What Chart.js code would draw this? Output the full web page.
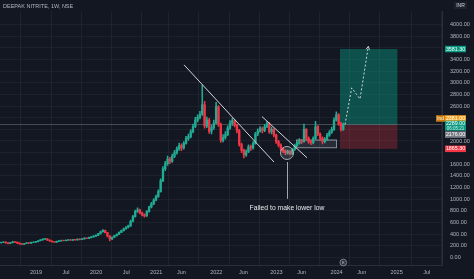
<!DOCTYPE html>
<html><head><meta charset="utf-8">
<script src="https://cdn.jsdelivr.net/npm/chart.js@4.4.0/dist/chart.umd.min.js"></script>
<style>html,body{margin:0;padding:0;background:#131722;overflow:hidden}canvas{display:block}</style>
</head><body>
<canvas id="c" width="474" height="279" style="width:474px;height:279px"></canvas>
<script>
const TITLE = 'DEEPAK NITRITE, 1W, NSE';
const START_YEAR = 2018.42;      // first weekly-pair candle (fractional year)
const STEP = 1 / 26;             // candle spacing in years
const FIRST_OPEN = 250;
const closes = [255,262,248,240,252,268,260,245,232,225,
238,250,244,256,262,270,285,300,312,318,
296,280,268,262,275,282,290,286,294,300,
296,305,300,312,306,318,330,326,340,352,
365,378,405,440,462,425,365,318,345,372,
395,430,458,490,512,540,620,700,790,815,
765,730,712,790,865,920,985,1045,1130,1320,
1520,1610,1690,1655,1740,1800,1865,1920,1880,1960,
2040,2075,2160,2250,2360,2410,2460,2620,2260,2360,
2170,2230,2310,2590,2290,2010,2060,2110,2220,2310,
2350,2270,2180,1940,1840,1760,1820,1900,1880,1960,
2120,2170,2210,2180,2250,2300,2160,2200,2100,1990,
1930,1860,1830,1795,1820,1780,1850,1920,1960,2010,
1990,2200,2050,1990,1970,2040,2250,2120,2050,1990,
2030,2100,2150,2200,2360,2450,2300,2200,2289];
const highs = [262,270,266,252,258,274,272,263,248,236,
242,255,254,260,267,276,290,306,320,328,
322,300,284,272,280,288,296,295,300,306,
305,310,309,318,316,324,336,336,346,358,
372,386,414,452,478,468,430,372,352,380,
404,440,470,502,528,556,640,720,812,850,
830,780,748,805,880,945,1010,1070,1160,1350,
1560,1650,1740,1720,1775,1840,1900,1965,1950,1990,
2080,2120,2195,2290,2405,2450,2510,2960,2680,2410,
2390,2280,2360,2667,2610,2310,2110,2160,2260,2350,
2390,2370,2290,2200,1965,1860,1850,1935,1930,1990,
2150,2210,2250,2240,2285,2337,2315,2240,2215,2120,
2010,1950,1885,1850,1845,1835,1870,1945,1990,2040,
2030,2290,2215,2070,2010,2070,2337,2265,2140,2070,
2060,2130,2180,2240,2400,2500,2470,2320,2310];
const lows = [244,250,242,232,236,248,254,240,226,218,
221,234,239,241,252,258,266,281,296,306,
290,274,262,255,258,270,278,280,282,290,
290,292,295,297,300,303,314,320,322,335,
348,360,372,400,432,418,350,280,305,338,
365,388,424,450,482,505,532,610,690,770,
748,712,690,705,778,850,905,970,1030,1120,
1300,1490,1580,1610,1630,1715,1775,1840,1835,1860,
1945,2010,2055,2140,2230,2330,2380,2440,2220,2230,
2130,2120,2200,2290,2250,1975,1985,2030,2090,2200,
2270,2240,2140,1910,1800,1710,1735,1800,1840,1860,
1945,2090,2150,2140,2160,2230,2130,2120,2070,1960,
1900,1830,1800,1765,1775,1760,1770,1840,1905,1945,
1955,1980,2020,1960,1935,1950,2030,2090,2020,1950,
1965,2010,2080,2130,2180,2340,2270,2170,2180];

const xTickValues = [2019,2019.5,2020,2020.5,2021,2021.42,2022,2022.45,2023,2023.42,2024,2024.42,2025,2025.5];
const xTickLabels = ['2019','Jul','2020','Jul','2021','Jun','2022','Jun','2023','Jun','2024','Jun','2025','Jul'];
const yTickValues = [0,200,400,600,800,1000,1200,1400,1600,1800,2000,2200,2400,2600,2800,3000,3200,3400,3600,3800,4000];
const hiddenYTicks = [3600,2400,2200,1800];

const trendLine1X = [2021.463, 2022.960], trendLine1Y = [3309, 1638];
const trendLine2X = [2022.760, 2023.509], trendLine2Y = [2420, 1712];
const projectionX = [2024.141, 2024.253, 2024.391, 2024.529];
const projectionY = [2283, 2914, 2722, 3626];
const positionBox = {start: 2024.058, end: 2025.013, entry: 2280, target: 3581.3, stop: 1865.3};
const rangeBox = {x0: 2023.326, x1: 2023.992, top: 2025, bottom: 1893};
const lowCircle = {x: 2023.176, y: 1794};
const noteText = 'Failed to make lower low';
const noteY = 850;
const lastPrice = 2289;
const priceTags = [
  {text: '3581.30', value: 3581.3, bg: '#089981', fg: '#ffffff'},
  {text: '2381.00', value: 2387, bg: '#f7a21b', fg: '#ffffff', tag: 'Ind'},
  {text: '2289.00', sub: '06:05:21', value: 2289, bg: '#089981', fg: '#ffffff'},
  {text: '2176.00', value: 2110, bg: '#787b86', fg: '#ffffff'},
  {text: '1865.30', value: 1865.3, bg: '#f23645', fg: '#ffffff'}
];

const UP = '#22ab94', DOWN = '#f23645';
const opens = closes.map((c, i) => i === 0 ? FIRST_OPEN : closes[i - 1]);
const xs = closes.map((c, i) => START_YEAR + i * STEP);
const colors = closes.map((c, i) => c >= opens[i] ? UP : DOWN);
const bodies = closes.map((c, i) => ({x: xs[i], y: [opens[i], c === opens[i] ? c + 4 : c]}));
const wicks = closes.map((c, i) => ({x: xs[i], y: [lows[i], highs[i]]}));
const FONT = "'Liberation Sans', Arial, sans-serif";

const overlay = {
  id: 'overlay',
  beforeDraw(chart) {
    const ctx = chart.ctx; ctx.save();
    ctx.fillStyle = '#131722'; ctx.fillRect(0, 0, chart.width, chart.height);
    ctx.restore();
  },
  beforeDatasetsDraw(chart) {
    const {ctx, chartArea: a, scales: {x, y}} = chart;
    ctx.save();
    ctx.beginPath(); ctx.rect(a.left, a.top, a.right - a.left, a.bottom - a.top); ctx.clip();
    const x0 = x.getPixelForValue(positionBox.start), x1 = x.getPixelForValue(positionBox.end);
    const yT = y.getPixelForValue(positionBox.target), yE = y.getPixelForValue(positionBox.entry), yS = y.getPixelForValue(positionBox.stop);
    ctx.fillStyle = 'rgba(8,153,129,0.45)'; ctx.fillRect(x0, yT, x1 - x0, yE - yT);
    ctx.fillStyle = 'rgba(242,54,69,0.26)'; ctx.fillRect(x0, yE, x1 - x0, yS - yE);
    // last price line
    const yL = Math.round(y.getPixelForValue(lastPrice)) + 0.5;
    ctx.strokeStyle = 'rgba(160,165,178,0.35)'; ctx.lineWidth = 1;
    ctx.beginPath(); ctx.moveTo(a.left, yL); ctx.lineTo(a.right, yL); ctx.stroke();
    // range box
    const rx0 = x.getPixelForValue(rangeBox.x0), rx1 = x.getPixelForValue(rangeBox.x1);
    const ry0 = y.getPixelForValue(rangeBox.top), ry1 = y.getPixelForValue(rangeBox.bottom);
    ctx.fillStyle = 'rgba(120,123,134,0.22)'; ctx.fillRect(rx0, ry0, rx1 - rx0, ry1 - ry0);
    ctx.strokeStyle = 'rgba(178,181,190,0.75)'; ctx.strokeRect(rx0 + 0.5, ry0 + 0.5, rx1 - rx0, ry1 - ry0);
    ctx.restore();
  },
  afterDatasetsDraw(chart) {
    const {ctx, scales: {x, y}} = chart;
    ctx.save();
    const cx = x.getPixelForValue(lowCircle.x), cy = y.getPixelForValue(lowCircle.y);
    ctx.beginPath(); ctx.arc(cx, cy, 6.5, 0, Math.PI * 2);
    ctx.fillStyle = 'rgba(178,181,190,0.18)'; ctx.fill();
    ctx.strokeStyle = 'rgba(200,203,210,0.8)'; ctx.lineWidth = 1; ctx.stroke();
    const ny = y.getPixelForValue(noteY);
    ctx.beginPath(); ctx.moveTo(Math.round(cx) + 0.5, cy + 9); ctx.lineTo(Math.round(cx) + 0.5, ny - 9);
    ctx.strokeStyle = 'rgba(200,203,210,0.8)'; ctx.stroke();
    ctx.fillStyle = '#e8e9ec'; ctx.font = '6.8px ' + FONT; ctx.textAlign = 'center'; ctx.textBaseline = 'middle';
    ctx.fillText(noteText, cx, ny);
    // arrow head of projection
    const n = projectionX.length;
    const ax = x.getPixelForValue(projectionX[n - 1]), ay = y.getPixelForValue(projectionY[n - 1]);
    const bx = x.getPixelForValue(projectionX[n - 2]), by = y.getPixelForValue(projectionY[n - 2]);
    const ang = Math.atan2(ay - by, ax - bx);
    ctx.strokeStyle = '#d1d4dc'; ctx.lineWidth = 1;
    ctx.beginPath();
    ctx.moveTo(ax - 3.5 * Math.cos(ang - 0.5), ay - 3.5 * Math.sin(ang - 0.5)); ctx.lineTo(ax, ay);
    ctx.lineTo(ax - 3.5 * Math.cos(ang + 0.5), ay - 3.5 * Math.sin(ang + 0.5)); ctx.stroke();
    ctx.restore();
  },
  afterDraw(chart) {
    const {ctx, chartArea: a, scales: {x, y}} = chart;
    ctx.save();
    ctx.fillStyle = '#b2b5be'; ctx.font = '5.5px ' + FONT; ctx.textAlign = 'left'; ctx.textBaseline = 'middle';
    ctx.fillText(TITLE, 3, 6);
    // currency box
    ctx.fillStyle = '#1e222d'; ctx.fillRect(454, 2, 13, 7);
    ctx.fillStyle = '#d1d4dc'; ctx.textAlign = 'center'; ctx.font = '5px ' + FONT; ctx.fillText('INR', 460.5, 5.7);
    // price tags
    priceTags.forEach(t => {
      const py = y.getPixelForValue(t.value);
      const h = t.sub ? 10 : 6.5;
      const top = t.sub ? py - 3.5 : py - 3.25;
      const left = a.right + 3, w = 21;
      if (t.tag) { ctx.fillStyle = '#c77b0e'; ctx.fillRect(left - 9, top, 9, h); ctx.fillStyle = '#fff'; ctx.font = '4.5px ' + FONT; ctx.textAlign = 'center'; ctx.fillText(t.tag, left - 4.5, top + h / 2); }
      ctx.fillStyle = t.bg; ctx.fillRect(left, top, w, h);
      ctx.fillStyle = t.fg; ctx.font = '5.3px ' + FONT; ctx.textAlign = 'center';
      ctx.fillText(t.text, left + w / 2, top + 3.3);
      if (t.sub) { ctx.font = '4.5px ' + FONT; ctx.fillStyle = 'rgba(255,255,255,0.8)'; ctx.fillText(t.sub, left + w / 2, top + 7.6); }
    });
    // event icon on time axis
    const ex = x.getPixelForValue(xs[xs.length - 1]);
    ctx.beginPath(); ctx.arc(ex, a.bottom - 2.5, 3.3, 0, Math.PI * 2);
    ctx.fillStyle = '#2a2e39'; ctx.fill(); ctx.strokeStyle = '#9598a1'; ctx.lineWidth = 0.8; ctx.stroke();
    ctx.fillStyle = '#c8cad0'; ctx.font = '4px ' + FONT; ctx.textAlign = 'center'; ctx.fillText('E', ex, a.bottom - 2.4);
    ctx.restore();
  }
};

const lineDs = (xa, ya, extra) => Object.assign({
  type: 'line', data: xa.map((v, i) => ({x: v, y: ya[i]})), borderColor: '#d1d4dc', borderWidth: 1,
  pointRadius: 0, fill: false, tension: 0, order: 0
}, extra || {});

new Chart(document.getElementById('c'), {
  type: 'bar',
  data: {
    datasets: [
      {data: wicks, backgroundColor: colors, barThickness: 0.9, grouped: false, order: 3, borderWidth: 0},
      {data: bodies, backgroundColor: colors, barThickness: 1.7, grouped: false, order: 2, borderWidth: 0},
      lineDs(trendLine1X, trendLine1Y),
      lineDs(trendLine2X, trendLine2Y),
      lineDs(projectionX, projectionY, {borderDash: [2, 2]})
    ]
  },
  options: {
    responsive: false, animation: false, devicePixelRatio: 1,
    layout: {padding: 0},
    plugins: {legend: {display: false}, tooltip: {enabled: false}},
    scales: {
      x: {
        type: 'linear', min: 2018.401, max: 2025.755, offset: false,
        afterBuildTicks: s => { s.ticks = xTickValues.map(v => ({value: v})); },
        afterFit: s => { s.height = 14; },
        ticks: {autoSkip: false, maxRotation: 0, padding: 4, color: '#b2b5be', font: {size: 5.5, family: FONT},
          callback: (v, i) => xTickLabels[i]},
        grid: {color: 'rgba(42,46,57,0.55)', drawTicks: false},
        border: {color: '#2a2e39'}
      },
      y: {
        type: 'linear', position: 'right', min: -132, max: 4230,
        afterBuildTicks: s => { s.ticks = yTickValues.map(v => ({value: v})); },
        afterFit: s => { s.width = 32; },
        ticks: {padding: 8, color: '#b2b5be', font: {size: 5.5, family: FONT},
          callback: v => hiddenYTicks.includes(v) ? '' : v.toFixed(2)},
        grid: {color: 'rgba(42,46,57,0.45)', drawTicks: false},
        border: {color: '#2a2e39'}
      }
    }
  },
  plugins: [overlay]
});
</script>
</body></html>
